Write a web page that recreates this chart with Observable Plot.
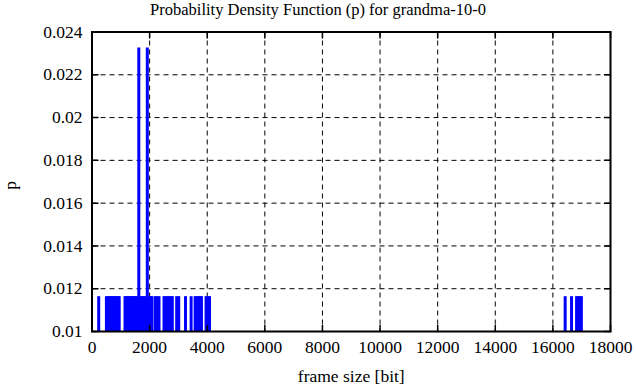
<!DOCTYPE html>
<html><head><meta charset="utf-8">
<script src="https://cdn.jsdelivr.net/npm/d3@7"></script>
<script src="https://cdn.jsdelivr.net/npm/@observablehq/plot@0.6"></script>
<style>
html,body{margin:0;padding:0;background:#fff;}
#title{height:22px;line-height:20px;text-align:center;font-family:'Liberation Serif','Times New Roman',serif;font-size:16.5px;color:#000;white-space:nowrap;}
svg{display:block;}
svg text{font-family:'Liberation Serif','Times New Roman',serif !important;font-variant:normal !important;}
</style>
</head><body>
<div id="title"></div>
<div id="chart"></div>
<script>
// Frame sizes (bits) observed in the trace, and how many frames had each size
const frameSizes = [233, 500, 560, 610, 660, 710, 760, 810, 860, 910, 944, 1146, 1190, 1235, 1285, 1330, 1375, 1424, 1470, 1515, 1562, 1625, 1694, 1740, 1790, 1833, 1920, 1989, 2040, 2076, 2190, 2250, 2326, 2500, 2560, 2620, 2691, 2750, 2788, 2940, 3010, 3246, 3441, 3580, 3640, 3700, 3760, 3800, 3960, 4040, 4080, 16426, 16648, 16822, 16880, 16940, 16989];
const frameCounts = frameSizes.map(s => (s === 1625 || s === 1920) ? 2 : 1);
const totalFrames = 86;
const xTicks = [0, 2000, 4000, 6000, 8000, 10000, 12000, 14000, 16000, 18000];
const yTicks = [0.01, 0.012, 0.014, 0.016, 0.018, 0.02, 0.022, 0.024];
const titleText = "Probability Density Function (p) for grandma-10-0";
const xLabel = "frame size [bit]";
const yLabel = "p";

const data = frameSizes.map((s, i) => ({size: s, p: frameCounts[i] / totalFrames}));

document.getElementById("title").textContent = titleText;

const font = "'Liberation Serif', 'Times New Roman', serif";
const tickShape = {draw(ctx, l) { ctx.moveTo(0, 0); ctx.lineTo(0, -l); }};
const tickLen = 6;

const chart = Plot.plot({
  width: 636,
  height: 365,
  marginLeft: 91.5,
  marginRight: 26,
  marginTop: 9.5,
  marginBottom: 56,
  style: {fontFamily: font, fontSize: "17px", background: "#fff", color: "#000"},
  x: {domain: [0, 18000], ticks: xTicks, label: null},
  y: {domain: [0.01, 0.024], ticks: yTicks, label: null},
  marks: [
    Plot.gridX(xTicks, {stroke: "#000", strokeOpacity: 1, strokeWidth: 1, strokeDasharray: "5,4"}),
    Plot.gridY(yTicks, {stroke: "#000", strokeOpacity: 1, strokeWidth: 1, strokeDasharray: "5,4"}),
    Plot.ruleX(data, {x: "size", y1: yTicks[0], y2: "p", stroke: "#0000ff", strokeWidth: 3}),
    Plot.vector(xTicks, {x: d => d, frameAnchor: "bottom", rotate: 0, length: tickLen, anchor: "start", shape: tickShape, stroke: "#000", strokeWidth: 1.5}),
    Plot.vector(xTicks, {x: d => d, frameAnchor: "top", rotate: 180, length: tickLen, anchor: "start", shape: tickShape, stroke: "#000", strokeWidth: 1.5}),
    Plot.vector(yTicks, {y: d => d, frameAnchor: "left", rotate: 90, length: tickLen, anchor: "start", shape: tickShape, stroke: "#000", strokeWidth: 1.5}),
    Plot.vector(yTicks, {y: d => d, frameAnchor: "right", rotate: -90, length: tickLen, anchor: "start", shape: tickShape, stroke: "#000", strokeWidth: 1.5}),
    Plot.frame({stroke: "#000", strokeWidth: 2}),
    Plot.axisX(xTicks, {tickSize: 0, tickPadding: 9, tickFormat: d => String(d), fontSize: 17.5, fontFamily: font, fontVariant: "normal", label: null}),
    Plot.axisY(yTicks, {tickSize: 0, tickPadding: 9.5, tickFormat: d => String(+d.toFixed(3)), fontSize: 17.5, fontFamily: font, fontVariant: "normal", label: null}),
    Plot.text([xLabel], {frameAnchor: "bottom", lineAnchor: "bottom", dy: 50, fontSize: 17.5, fontFamily: font}),
    Plot.text([yLabel], {frameAnchor: "left", rotate: -90, dx: -82, dy: 8, fontSize: 17.5, fontFamily: font})
  ]
});
document.getElementById("chart").appendChild(chart);
</script>
</body></html>
